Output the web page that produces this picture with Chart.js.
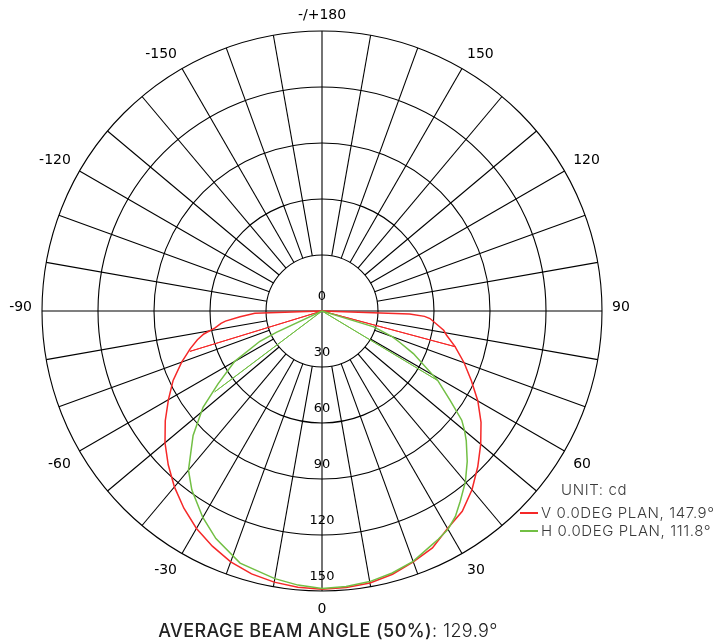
<!doctype html>
<html>
<head>
	<title>Polar Intensity Curve</title>
	<script src="https://cdn.jsdelivr.net/npm/chart.js@4"></script>
	<style>
	body { margin: 0; background: #fff; }
	.wrap { position: relative; width: 717px; height: 644px; }
	.wrap canvas { position: absolute; left: 0; top: 0; }
	.note { position: absolute; font-family: Inter, sans-serif; color: #3a3a3a; white-space: nowrap; }
	.legend-row { font-size: 15px; line-height: 18px; font-weight: 300; letter-spacing: 0.6px; }
	.swatch { position: absolute; left: 520px; width: 18px; height: 1.5px; }
	.title { left: 0; width: 656px; top: 620px; text-align: center; font-size: 18px; line-height: 22px; color: #222; letter-spacing: 0.4px; }
	.title b { font-weight: 500; }
	.title span { font-weight: 300; }
	</style>
</head>
<body>
	<div class="wrap">
		<canvas id="chart" width="717" height="644"></canvas>
		<div class="note legend-row" style="left:561px; top:481px;" id="unit"></div>
		<div class="swatch" style="top:512px;" id="sw0"></div>
		<div class="note legend-row" style="left:541px; top:504px;" id="leg0"></div>
		<div class="swatch" style="top:530px;" id="sw1"></div>
		<div class="note legend-row" style="left:541px; top:522px;" id="leg1"></div>
		<div class="note title" id="title"></div>
	</div>
	<script>
		// photometric data, candela vs angle (0 = straight down)
		var vAngles = [-90, -88, -86, -84, -83, -81, -79, -77, -74, -72, -70, -65, -60, -55, -50, -45, -40, -35, -30, -25, -20, -15, -10, -5,
			0, 5, 10, 15, 20, 25, 30, 35, 40, 45, 50, 55, 60, 65, 70, 75, 79, 81, 86, 87, 88, 90];
		var vValues = [0, 36, 44, 52, 54.5, 58, 64.5, 68.5, 73.5, 76.5, 80, 88, 95, 102.5, 109.8, 116.5, 123, 129, 134.5, 139, 143, 145.8, 147.5, 148.6,
			149, 148.7, 148, 146, 143, 140, 134.5, 131, 125, 118, 111, 104, 96.4, 88.3, 81, 73.8, 68, 66, 58, 55, 47, 0];

		var hAngles = [-90, -70, -65, -64, -60, -55, -51, -46, -40, -36, -30, -25, -18, -10, -5,
			0, 5, 10, 15, 20, 25, 27, 30, 33, 36, 40, 44, 48, 50, 52, 55, 59, 65, 68, 70, 73, 78, 90];
		var hValues = [0, 0, 27, 37, 54, 68, 82, 96, 111.3, 118.6, 127.7, 134.5, 142, 145.6, 147.4,
			148.7, 148.2, 147.2, 145.3, 142.7, 138.5, 137.2, 135, 131.2, 126, 119.5, 112, 104, 99.7, 95, 84, 72.4, 54, 45, 40, 29, 0, 0];

		// half-peak (50%) directions for each plane
		var vHalfAngles = [-73, 75];
		var hHalfAngles = [-53, 59];
		var halfValue = [74, 72];

		var seriesNames = ['V 0.0DEG PLAN', 'H 0.0DEG PLAN'];
		var beamAngles = [147.9, 111.8];
		var averageBeam = 129.9;
		var unit = 'cd';

		var radialTicks = [0, 30, 60, 90, 120, 150];
		var angleTicks = [0, 30, 60, 90, 120, 150, 180, -150, -120, -90, -60, -30];
		var angleTickLabels = ['0', '30', '60', '90', '120', '150', '-/+180', '-150', '-120', '-90', '-60', '-30'];

		var colors = ['#f52828', '#72bf44'];

		// one label per degree, running clockwise from the bottom
		var labels = [];
		for (var i = 0; i < 360; i++) {
			labels.push(i <= 180 ? -i : 360 - i);
		}
		function indexOfAngle(a) {
			if (a === 180) return 180;
			return a <= 0 ? -a : 360 - a;
		}

		function curve(angles, values) {
			var data = labels.map(function() { return null; });
			angles.forEach(function(a, k) { data[indexOfAngle(a)] = values[k]; });
			return data;
		}
		function halfLine(angles, value) {
			var data = labels.map(function() { return 0; });
			angles.forEach(function(a) { data[indexOfAngle(a)] = value; });
			return data;
		}

		var polarGrid = {
			id: 'polarGrid',
			beforeDatasetsDraw: function(chart) {
				var r = chart.scales.r;
				var ctx = chart.ctx;
				ctx.save();
				ctx.strokeStyle = '#000';
				ctx.lineWidth = 1.1;
				for (var a = -170; a <= 180; a += 10) {
					var idx = indexOfAngle(a);
					var from = r.getPointPositionForValue(idx, a % 90 === 0 ? 0 : 30);
					var to = r.getPointPositionForValue(idx, 150);
					ctx.beginPath();
					ctx.moveTo(from.x, from.y);
					ctx.lineTo(to.x, to.y);
					ctx.stroke();
				}

				ctx.fillStyle = '#000';
				ctx.textAlign = 'center';
				ctx.textBaseline = 'middle';
				ctx.font = '13px "DejaVu Sans"';
				radialTicks.forEach(function(v) {
					ctx.fillText(String(v), r.xCenter, r.yCenter + r.getDistanceFromCenterForValue(v) - 14);
				});

				// angle labels hang outward from a point just beyond the rim
				ctx.font = '14px "DejaVu Sans"';
				ctx.textBaseline = 'alphabetic';
				angleTicks.forEach(function(a, k) {
					var p = r.getPointPosition(indexOfAngle(a), r.drawingArea + 10);
					var dx = p.x - r.xCenter;
					var dy = p.y - r.yCenter;
					var y = dy > 1 ? p.y + 12 : (dy < -1 ? p.y - 2 : p.y);
					ctx.textAlign = Math.abs(dx) < 1 ? 'center' : (dx > 0 ? 'left' : 'right');
					ctx.fillText(angleTickLabels[k], p.x, y);
				});
				ctx.restore();
			}
		};

		window.onload = function() {
			var ctx = document.getElementById('chart').getContext('2d');
			new Chart(ctx, {
				type: 'radar',
				data: {
					labels: labels,
					datasets: [{
						label: seriesNames[1],
						data: curve(hAngles, hValues),
						borderColor: colors[1],
						borderWidth: 1.5,
						spanGaps: true,
						fill: false
					}, {
						label: seriesNames[0],
						data: curve(vAngles, vValues),
						borderColor: colors[0],
						borderWidth: 1.5,
						spanGaps: true,
						fill: false
					}, {
						label: 'H 50%',
						data: halfLine(hHalfAngles, halfValue[1]),
						borderColor: colors[1],
						borderWidth: 1,
						fill: false
					}, {
						label: 'V 50%',
						data: halfLine(vHalfAngles, halfValue[0]),
						borderColor: colors[0],
						borderWidth: 1,
						fill: false
					}]
				},
				options: {
					responsive: false,
					animation: false,
					layout: {
						padding: { left: 42, right: 115, top: 31, bottom: 53 }
					},
					elements: {
						point: { radius: 0, hitRadius: 0, hoverRadius: 0 },
						line: { tension: 0 }
					},
					plugins: {
						legend: { display: false },
						tooltip: { enabled: false }
					},
					scales: {
						r: {
							min: 0,
							max: 150,
							startAngle: 180,
							ticks: { display: false, stepSize: 30 },
							grid: { circular: true, color: '#000', lineWidth: 1.1 },
							angleLines: { display: false },
							pointLabels: { display: false }
						}
					}
				},
				plugins: [polarGrid]
			});

			document.getElementById('unit').textContent = 'UNIT: ' + unit;
			[0, 1].forEach(function(k) {
				document.getElementById('sw' + k).style.backgroundColor = colors[k];
				document.getElementById('leg' + k).textContent = seriesNames[k] + ', ' + beamAngles[k] + '°';
			});
			document.getElementById('title').innerHTML = '<b>AVERAGE BEAM ANGLE (50%)</b><span>: ' + averageBeam + '°</span>';
		};
	</script>
</body>
</html>
